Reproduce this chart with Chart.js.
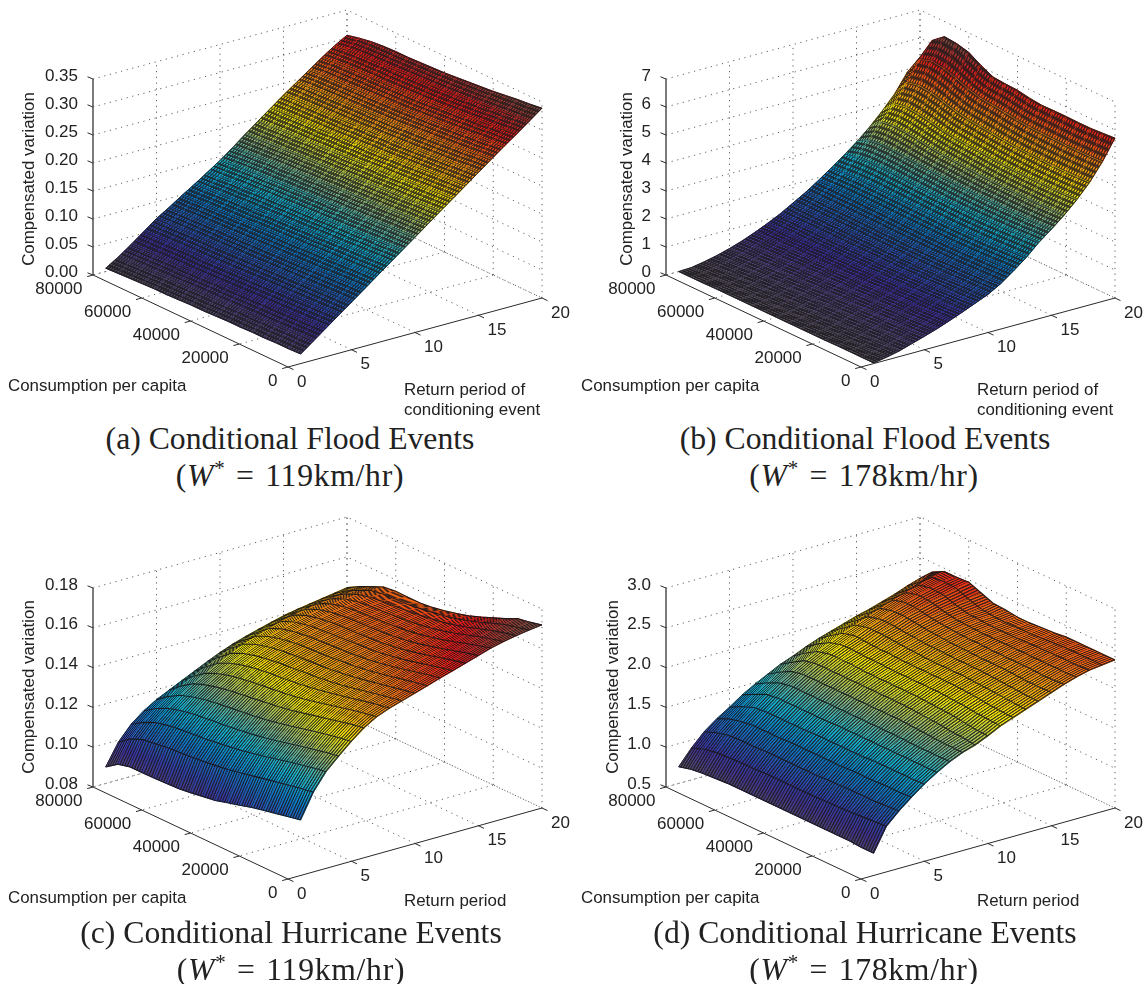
<!DOCTYPE html>
<html><head><meta charset="utf-8">
<script src="https://cdn.jsdelivr.net/npm/chart.js@4"></script>
<style>
html,body{margin:0;padding:0;background:#fff;width:1146px;height:984px;overflow:hidden}
canvas{position:absolute}
.cap{position:absolute;transform:translate(-50%,-50%);white-space:nowrap;font-family:"Liberation Serif",serif;font-size:31.7px;color:#222;line-height:1}
.cap.m{letter-spacing:.7px;word-spacing:2px}
.cap sup{font-size:21px;line-height:0}
</style></head><body>
<canvas id="pa" width="573" height="420" style="left:0;top:0"></canvas>
<canvas id="pb" width="573" height="420" style="left:573px;top:0"></canvas>
<canvas id="pc" width="573" height="420" style="left:0;top:512px"></canvas>
<canvas id="pd" width="573" height="420" style="left:573px;top:512px"></canvas>
<div class="cap" style="left:290px;top:439px">(a) Conditional Flood Events</div>
<div class="cap m" style="left:290px;top:476px">(<i>W</i><sup>*</sup> = 119km/hr)</div>
<div class="cap" style="left:865px;top:439px">(b) Conditional Flood Events</div>
<div class="cap m" style="left:864px;top:476px">(<i>W</i><sup>*</sup> = 178km/hr)</div>
<div class="cap" style="left:291px;top:933px">(c) Conditional Hurricane Events</div>
<div class="cap m" style="left:291px;top:970px">(<i>W</i><sup>*</sup> = 119km/hr)</div>
<div class="cap" style="left:865px;top:933px">(d) Conditional Hurricane Events</div>
<div class="cap m" style="left:864px;top:970px">(<i>W</i><sup>*</sup> = 178km/hr)</div>
<script>
// Surface values: one row per return period (1..20), one column per consumption level.
const returnPeriods=[1,2,3,4,5,6,7,8,9,10,11,12,13,14,15,16,17,18,19,20];
const consumptionLevels=[0,5000,10000,15000,20000,25000,30000,35000,40000,45000,50000,55000,60000,65000,70000,75000,80000];
const consumptionTicks=[0,20000,40000,60000,80000];
const returnTicks=[0,5,10,15,20];
// panel (a), in units of 0.001
const floodLow=[
[17,16,16,15,15,14,14,13,12,12,11,10,10,9,8,7,6],
[34,33,32,31,30,30,29,28,27,27,26,25,24,23,22,21,20],
[51,50,49,48,47,46,45,44,43,42,41,40,40,39,38,37,36],
[68,67,66,65,64,63,62,61,60,59,58,57,57,56,55,54,53],
[85,84,83,82,81,80,79,78,77,76,75,74,74,73,72,71,70],
[102,101,100,99,97,96,95,94,93,92,91,90,89,88,87,85,84],
[119,118,116,115,114,113,111,110,109,108,107,105,104,103,102,100,99],
[136,135,133,132,130,129,128,126,125,124,122,121,120,118,117,115,113],
[153,151,150,148,147,145,144,142,141,140,138,137,135,134,132,130,128],
[170,168,167,165,163,162,160,159,157,156,154,153,151,150,148,146,143],
[187,185,184,182,180,178,177,175,174,172,171,169,168,166,164,162,160],
[204,202,200,198,197,195,193,192,190,188,187,185,184,182,181,179,178],
[221,219,217,215,213,211,210,208,206,205,203,202,200,199,198,196,195],
[238,236,234,232,230,228,226,224,223,221,220,218,217,216,215,214,212],
[255,253,250,248,246,244,242,241,239,238,236,235,234,233,232,231,229],
[272,270,267,265,263,261,259,257,255,254,253,252,251,250,249,248,245],
[289,286,284,281,279,277,275,273,271,270,269,268,267,266,265,264,261],
[305,303,300,298,295,293,291,289,287,286,285,284,284,283,282,280,277],
[322,319,317,314,312,309,307,305,304,303,302,301,300,299,298,296,292],
[339,336,334,331,328,326,324,322,320,319,318,317,317,316,314,310,305]];
// panel (b), in units of 0.01
const floodHigh=[
[2,2,2,2,1,1,1,1,1,1,1,1,1,1,0,0,0],
[10,10,9,9,8,8,8,7,7,6,6,6,5,5,4,3,2],
[20,20,19,18,18,17,17,16,16,15,14,14,13,12,12,11,10],
[34,33,32,31,31,30,29,28,28,27,26,25,25,24,23,21,20],
[48,47,46,45,44,43,42,41,40,39,38,38,37,36,35,34,33],
[63,62,60,59,58,57,56,55,54,53,52,52,51,50,50,49,48],
[80,78,77,75,74,73,72,71,70,69,68,68,67,67,66,66,66],
[98,96,94,93,91,90,89,88,87,87,86,86,86,86,86,86,86],
[117,115,113,112,110,109,108,107,107,107,107,107,107,107,107,107,108],
[136,134,132,131,130,129,129,129,129,130,130,131,131,132,132,133,134],
[162,160,158,157,156,155,155,155,156,156,157,158,158,159,159,160,160],
[195,193,191,189,188,187,187,187,188,189,190,191,192,192,192,191,190],
[230,228,226,224,223,222,222,223,224,225,226,227,228,229,228,225,222],
[272,270,267,265,264,263,263,264,265,267,269,271,273,274,273,268,255],
[307,305,304,303,303,303,303,304,306,309,311,314,318,321,322,316,290],
[345,343,342,342,342,343,344,346,349,352,355,360,367,373,376,370,330],
[388,386,385,385,385,386,388,391,395,398,402,408,418,426,430,422,375],
[437,435,434,434,435,436,438,442,447,452,456,465,478,490,495,485,425],
[498,496,495,495,496,497,499,503,510,515,520,532,550,565,570,555,490],
[571,568,565,565,566,566,565,570,578,580,584,605,631,642,646,612,532]];
// panel (c), in units of 0.0001
const hurricaneLow=[
[1079,1066,1053,1040,1026,1008,992,974,965,955,947,944,942,941,941,925,883],
[1200,1190,1178,1165,1152,1138,1125,1112,1103,1095,1088,1083,1078,1070,1060,1035,990],
[1285,1275,1262,1248,1233,1218,1204,1191,1181,1172,1164,1158,1152,1143,1128,1100,1062],
[1345,1335,1322,1308,1293,1278,1264,1252,1242,1234,1227,1220,1212,1200,1182,1152,1112],
[1402,1392,1379,1365,1350,1335,1321,1309,1299,1291,1283,1275,1265,1250,1230,1195,1150],
[1452,1441,1427,1412,1397,1382,1368,1356,1347,1338,1330,1321,1309,1293,1270,1230,1180],
[1490,1479,1465,1450,1435,1420,1406,1395,1386,1378,1371,1361,1349,1331,1305,1262,1210],
[1515,1505,1492,1478,1464,1450,1437,1427,1419,1412,1406,1397,1384,1366,1338,1292,1240],
[1535,1523,1510,1496,1482,1470,1460,1452,1446,1440,1434,1426,1414,1397,1370,1322,1270],
[1555,1543,1530,1517,1504,1492,1482,1475,1469,1464,1459,1452,1441,1424,1398,1350,1298],
[1575,1562,1549,1535,1522,1510,1501,1494,1488,1483,1479,1473,1463,1447,1420,1372,1322],
[1596,1583,1568,1553,1539,1527,1517,1510,1505,1500,1496,1491,1482,1467,1441,1392,1342],
[1615,1601,1586,1570,1555,1543,1532,1525,1520,1515,1511,1507,1498,1484,1459,1410,1360],
[1635,1620,1604,1587,1571,1557,1546,1538,1533,1528,1525,1521,1513,1498,1473,1428,1377],
[1655,1640,1622,1604,1587,1572,1560,1551,1545,1540,1537,1533,1525,1510,1485,1442,1393],
[1675,1658,1640,1620,1602,1586,1573,1563,1556,1551,1547,1543,1535,1520,1495,1453,1405],
[1690,1674,1656,1636,1616,1599,1585,1574,1566,1560,1555,1551,1543,1528,1502,1462,1415],
[1702,1687,1670,1650,1628,1610,1595,1584,1575,1568,1561,1557,1548,1533,1507,1470,1425],
[1712,1697,1682,1660,1636,1614,1596,1582,1571,1561,1553,1550,1546,1535,1508,1476,1435],
[1720,1705,1694,1665,1640,1615,1592,1575,1560,1548,1541,1541,1542,1535,1508,1480,1445]];
// panel (d), in units of 0.01
const hurricaneHigh=[
[78,78,79,79,79,79,79,79,79,79,79,79,79,78,77,75,71],
[107,106,105,104,103,103,102,102,102,102,102,101,101,100,99,96,90],
[122,121,120,120,120,119,119,118,118,118,118,118,117,117,116,112,106],
[135,134,134,133,133,133,132,132,132,132,132,131,131,131,129,125,118],
[147,146,146,146,146,145,145,145,145,145,144,144,144,144,142,136,128],
[157,157,157,157,157,157,157,157,157,156,156,156,156,156,154,147,139],
[166,166,166,166,167,167,167,167,167,167,167,167,167,167,164,157,148],
[173,174,174,175,176,177,177,177,177,177,177,177,177,177,174,166,156],
[178,180,181,183,184,185,186,186,186,186,186,186,186,186,183,174,164],
[185,186,188,190,191,192,193,193,193,193,193,194,194,194,190,181,170],
[193,194,195,197,198,199,199,199,199,199,200,200,201,201,197,188,177],
[199,200,201,203,204,205,205,205,205,205,206,206,207,208,204,194,183],
[205,206,207,208,209,210,210,210,210,211,212,213,214,214,210,199,188],
[211,211,212,213,214,215,215,215,216,216,217,218,220,220,216,204,193],
[217,217,217,218,219,219,219,220,220,221,222,224,226,226,222,209,198],
[223,222,222,223,223,223,223,224,224,225,226,228,231,232,228,214,202],
[228,227,227,227,227,227,227,227,227,228,229,232,236,237,233,219,207],
[232,231,231,231,230,230,229,229,229,230,231,235,240,241,238,224,212],
[234,234,234,234,233,232,231,231,230,231,233,238,244,245,243,230,218],
[236,236,236,236,236,234,233,232,232,234,235,241,247,246,246,238,223]];
const zLabelsA=['0.00','0.05','0.10','0.15','0.20','0.25','0.30','0.35'];
const zLabelsB=['0','1','2','3','4','5','6','7'];
const zLabelsC=['0.08','0.10','0.12','0.14','0.16','0.18'];
const zLabelsD=['0.5','1.0','1.5','2.0','2.5','3.0'];
const yTitle='Compensated variation', cTitle='Consumption per capita';

const ramp=[[0,80,74,84],[.05,78,66,120],[.12,58,44,160],[.3,8,124,200],[.4,16,180,208],[.5,128,178,128],[.62,248,232,0],[.75,248,136,16],[.88,235,20,20],[1,112,76,64]];
function cmap(t){t=Math.max(0,Math.min(1,t));for(let i=1;i<ramp.length;i++){if(t<=ramp[i][0]){const a=ramp[i-1],b=ramp[i],f=(t-a[0])/(b[0]-a[0]);
return `rgb(${Math.round(a[1]+(b[1]-a[1])*f)},${Math.round(a[2]+(b[2]-a[2])*f)},${Math.round(a[3]+(b[3]-a[3])*f)})`}}return 'rgb(112,76,64)'}
function makeTile(kind){const t=document.createElement('canvas');t.width=t.height=4;const g=t.getContext('2d');g.fillStyle='rgba(28,26,28,.82)';
if(kind==='dots'){g.fillRect(0,0,4,4);g.clearRect(1,1,2,2)}else{g.fillRect(0,0,4,2)}return t}

function panel(id,cfg){
 const rows=cfg.rows,nC=consumptionLevels.length,cMax=80000,rMax=20;
 const labels=cfg.labels,zMin=+labels[0],zMax=+labels[labels.length-1];
 const P=(r,c,z)=>({x:288+r/rMax*254-c/cMax*195,y:367+r/rMax*cfg.ry-c/cMax*92-(z-zMin)/(zMax-zMin)*cfg.h});
 const val=(i,j)=>rows[i][j]*cfg.unit;
 const all=rows.flat().map(v=>v*cfg.unit),lo=Math.min(...all),hi=cfg.colorHi||Math.max(...all);
 const tile=makeTile(cfg.tex);
 const sets=[];
 const line=(pts,color,w,dash)=>({data:pts,borderColor:color,borderWidth:w,borderDash:dash||[],fill:false,pointRadius:0,tension:0});
 const G=(r,j)=>P(returnPeriods[r],consumptionLevels[j],val(r,j));
 // edges and (for hurricane panels) the bold return-period lines
 for(let i=0;i<rows.length;i++){ if(cfg.tex==='hatch'||i===0||i===rows.length-1){
   sets.push(line(consumptionLevels.map((c,j)=>G(i,j)),'rgba(24,22,24,.92)',cfg.tex==='hatch'?1.1:.8)); } }
 for(const j of [0,nC-1]) sets.push(line(returnPeriods.map((r,i)=>G(i,j)),'rgba(24,22,24,.85)',.8));
 // quads, nearest first (Chart.js paints the first dataset last)
 for(let i=0;i<rows.length-1;i++)for(let j=0;j<nC-1;j++){
  const a=G(i,j),b=G(i+1,j),c=G(i+1,j+1),d=G(i,j+1),poly=[a,b,c,d,a];
  let pat=null,grad=null;
  const z0=(val(i,j)+val(i,j+1))/2,z1=(val(i+1,j)+val(i+1,j+1))/2;
  const colMid=cmap(((z0+z1)/2-lo)/(hi-lo));
  // foreshortened cells: mesh lines crowd together and read darker
  const ux=b.x-a.x,uy=b.y-a.y,vx=d.x-a.x,vy=d.y-a.y;
  const spacing=Math.abs(ux*vy-uy*vx)/Math.hypot(ux,uy)/5;
  const extra=Math.min(.85,Math.max(0,1-spacing/1.3)*.95);
  if(extra>.04)sets.push({data:poly,fill:'shape',borderWidth:0,pointRadius:0,tension:0,backgroundColor:`rgba(28,24,22,${extra.toFixed(2)})`});
  sets.push({data:poly,fill:'shape',borderWidth:0,pointRadius:0,tension:0,
   backgroundColor:ctx=>{ if(pat)return pat;
    const X=ctx.chart.scales.x,Y=ctx.chart.scales.y;
    if(!X||!Y||!Number.isFinite(X.getPixelForValue(a.x))||!Number.isFinite(Y.getPixelForValue(a.y)))return 'rgba(0,0,0,0)';
    const px=p=>[X.getPixelForValue(p.x),Y.getPixelForValue(p.y)];
    const A=px(a),B=px(b),D=px(d);
    pat=ctx.chart.ctx.createPattern(tile,'repeat');
    pat.setTransform(new DOMMatrix([(B[0]-A[0])/cfg.nr/4,(B[1]-A[1])/cfg.nr/4,(D[0]-A[0])/5/4,(D[1]-A[1])/5/4,A[0],A[1]]));
    return pat;}});
  sets.push({data:poly,fill:'shape',borderWidth:1,borderColor:colMid,pointRadius:0,tension:0,
   backgroundColor:ctx=>{ if(grad)return grad;
    const X=ctx.chart.scales.x,Y=ctx.chart.scales.y;
    if(!X||!Y||!Number.isFinite(X.getPixelForValue(a.x))||!Number.isFinite(Y.getPixelForValue(a.y)))return colMid;
    grad=ctx.chart.ctx.createLinearGradient(X.getPixelForValue((a.x+d.x)/2),Y.getPixelForValue((a.y+d.y)/2),X.getPixelForValue((b.x+c.x)/2),Y.getPixelForValue((b.y+c.y)/2));
    for(const f of [0,.5,1])grad.addColorStop(f,cmap((z0+(z1-z0)*f-lo)/(hi-lo)));
    return grad;}});
 }
 // axes
 const ink='#2a2a2a';
 sets.push(line([P(0,0,zMin),P(20,0,zMin)],ink,1));
 sets.push(line([P(0,0,zMin),P(0,cMax,zMin)],ink,1));
 sets.push(line([P(0,cMax,zMin),P(0,cMax,zMax)],'#444',1.4));
 const off=(p,dx,dy)=>({x:p.x+dx,y:p.y+dy});
 for(const r of returnTicks){const p=P(r,0,zMin);sets.push(line([p,off(p,5.5,2.6)],ink,1))}
 for(const c of consumptionTicks){const p=P(0,c,zMin);sets.push(line([p,off(p,-5.8,1.6)],ink,1))}
 labels.forEach(l=>{const p=P(0,cMax,+l);sets.push(line([p,off(p,-5.5,-2.2)],ink,1))});
 // dotted box grid
 const dot=[1.2,4.6],gc='#5e5e5e';
 labels.forEach(l=>{sets.push(line([P(0,cMax,+l),P(20,cMax,+l),P(20,0,+l)],gc,1,dot))});
 for(const r of returnTicks.slice(1)){sets.push(line([P(r,cMax,zMin),P(r,cMax,zMax)],gc,1,dot));sets.push(line([P(r,cMax,zMin),P(r,0,zMin)],gc,1,dot))}
 for(const c of consumptionTicks){sets.push(line([P(20,c,zMin),P(20,c,zMax)],gc,1,dot));if(c)sets.push(line([P(20,c,zMin),P(0,c,zMin)],gc,1,dot))}

 const textPlugin={id:'txt',afterDraw(ch){
  const g=ch.ctx,X=ch.scales.x,Y=ch.scales.y,px=p=>[X.getPixelForValue(p.x),Y.getPixelForValue(p.y)];
  g.save();g.fillStyle='#222';g.textBaseline='middle';
  g.font='17px "Liberation Sans"';
  g.textAlign='right';
  labels.forEach(l=>{const q=px(P(0,cMax,+l));g.fillText(l,q[0]-15,q[1]-3)});
  for(const c of consumptionTicks){const q=px(P(0,c,zMin));g.fillText(String(c),q[0]-10.5,q[1]+14)}
  g.textAlign='left';
  for(const r of returnTicks){const q=px(P(r,0,zMin));g.fillText(String(r),q[0]+9,q[1]+15)}
  g.font='16.9px "Liberation Sans"';
  cfg.rTitle.forEach((t,k)=>g.fillText(t,404,cfg.rTitleY+k*20));
  g.fillText(cTitle,8,386);
  g.translate(cfg.yx,cfg.yc);g.rotate(-Math.PI/2);g.textAlign='center';g.fillText(yTitle,0,0);
  g.restore();
 }};
 new Chart(document.getElementById(id),{type:'line',data:{datasets:sets},plugins:[textPlugin],options:{
  responsive:false,animation:false,events:[],layout:{padding:0},
  elements:{point:{radius:0}},
  plugins:{legend:{display:false},tooltip:{enabled:false},title:{display:false}},
  scales:{x:{type:'linear',min:0,max:573,display:false},y:{type:'linear',min:0,max:420,reverse:true,display:false}}}});
}
panel('pa',{rows:floodLow,unit:.001,labels:zLabelsA,h:196,ry:-69,tex:'dots',nr:4,rTitle:['Return period of','conditioning event'],rTitleY:390,yx:29,yc:179});
panel('pb',{rows:floodHigh,unit:.01,labels:zLabelsB,h:196,ry:-69,tex:'dots',nr:4,rTitle:['Return period of','conditioning event'],rTitleY:390,yx:54,yc:179});
panel('pc',{rows:hurricaneLow,unit:.0001,labels:zLabelsC,h:199,ry:-71,tex:'hatch',nr:1,rTitle:['Return period'],rTitleY:389,yx:29,yc:175});
panel('pd',{rows:hurricaneHigh,unit:.01,labels:zLabelsD,colorHi:2.75,h:199,ry:-71,tex:'hatch',nr:1,rTitle:['Return period'],rTitleY:389,yx:40,yc:175});
</script>
</body></html>
